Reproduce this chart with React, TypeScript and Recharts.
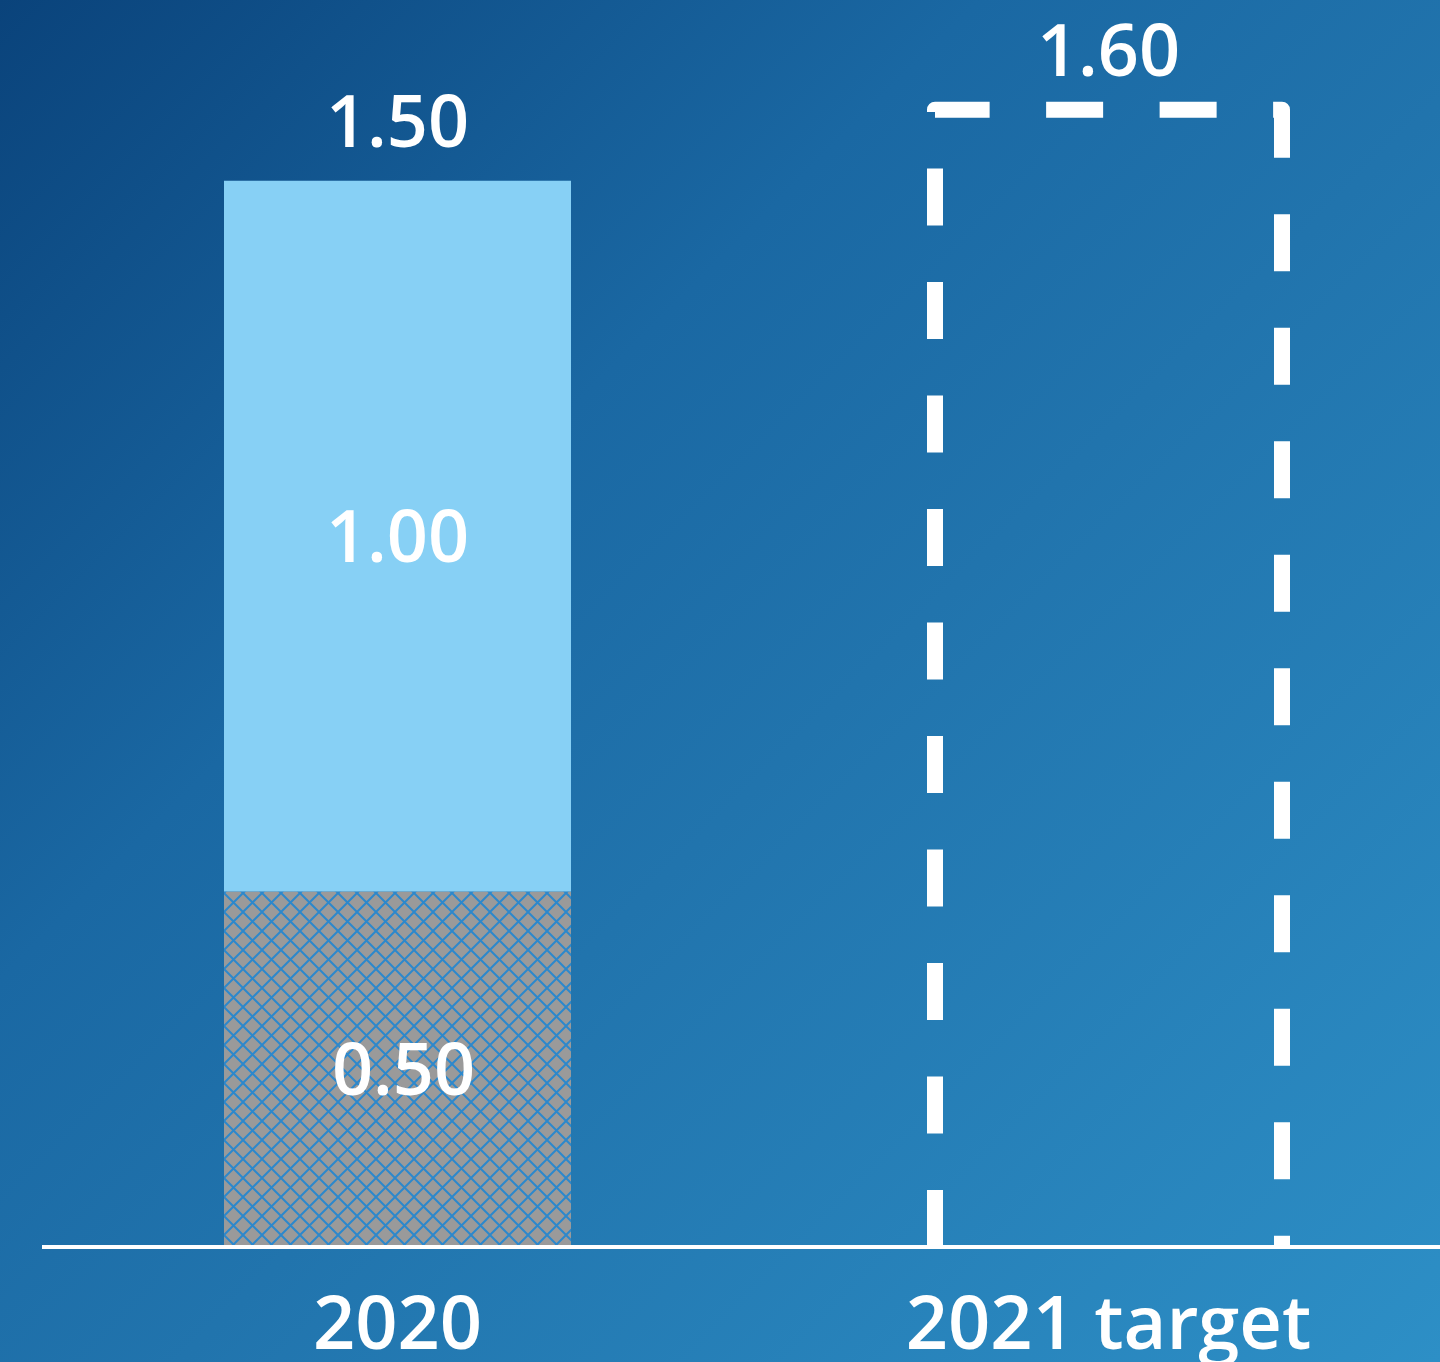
import React from 'react';
import { BarChart, Bar, XAxis, YAxis, LabelList } from 'recharts';

const categories = ['2020', '2021 target'];
const baseValues: (number | null)[] = [0.5, null];
const upperValues: (number | null)[] = [1.0, null];
const targetValues: (number | null)[] = [null, 1.6];
const totals: number[] = [1.5, 1.6];

const data = categories.map((name, i) => ({
  name,
  base: baseValues[i],
  upper: upperValues[i],
  target: targetValues[i],
  total: totals[i],
}));

const fmt = (v: any) => (v === null || v === undefined || v === '' ? '' : Number(v).toFixed(2));

const FONT = '"Open Sans", "Noto Sans", sans-serif';
const WEIGHT = 600;

const DashedShape = (props: any) => {
  const { x, y, width, height } = props;
  if (!height || height <= 0) return null;
  const lx = x;
  const rx = x + width;
  const bottom = y + height;
  const d = `M${lx},${bottom} L${lx},${y} L${rx},${y} L${rx},${bottom}`;
  return (
    <path
      d={d}
      fill="none"
      stroke="#ffffff"
      strokeWidth={16}
      strokeDasharray="57 56.5"
      strokeLinejoin="round"
    />
  );
};

const makeLabel = (pos: 'top' | 'center', dx = 0) => (props: any) => {
  const { x, y, width, height, value } = props;
  const txt = fmt(value);
  if (!txt) return null;
  const cx = x + width / 2 + dx;
  if (pos === 'top') {
    return (
      <text x={cx} y={y - 34} textAnchor="middle" fill="#ffffff" fontSize={72} fontWeight={WEIGHT} fontFamily={FONT}>
        {txt}
      </text>
    );
  }
  return (
    <text
      x={cx}
      y={y + height / 2}
      dy="0.36em"
      textAnchor="middle"
      fill="#ffffff"
      fontSize={72}
      fontWeight={WEIGHT}
      fontFamily={FONT}
    >
      {txt}
    </text>
  );
};

export default function App() {
  return (
    <div
      style={{
        position: 'absolute',
        left: 0,
        top: 0,
        width: 1440,
        height: 1362,
        overflow: 'hidden',
        background: 'linear-gradient(135deg, #0a437b 0%, #1a68a3 35%, #2174ad 55%, #2d8fc6 100%)',
      }}
    >
      <BarChart
        width={1464}
        height={1362}
        data={data}
        margin={{ top: 3, right: 0, bottom: 0, left: 42 }}
        barCategoryGap={0}
      >
        <defs>
          <pattern id="hatch" width="19" height="19" patternUnits="userSpaceOnUse" x="224" y="0">
            <rect width="19" height="19" fill="#9a9a9a" />
            <path d="M0,0 L19,19 M19,0 L0,19" stroke="#2c88cc" strokeWidth={2} />
          </pattern>
        </defs>
        <XAxis
          dataKey="name"
          axisLine={{ stroke: '#ffffff', strokeWidth: 4 }}
          tickLine={false}
          tickMargin={43}
          height={115}
          tick={{ fill: '#ffffff', fontSize: 74, fontWeight: WEIGHT, fontFamily: FONT }}
          interval={0}
        />
        <YAxis hide domain={[0, 1.75]} />
        <Bar dataKey="base" stackId="a" fill="url(#hatch)" barSize={347} isAnimationActive={false}>
          <LabelList dataKey="base" content={makeLabel('center', 6)} />
        </Bar>
        <Bar dataKey="upper" stackId="a" fill="#87d0f5" barSize={347} isAnimationActive={false}>
          <LabelList dataKey="upper" content={makeLabel('center')} />
          <LabelList dataKey="total" content={makeLabel('top')} />
        </Bar>
        <Bar dataKey="target" stackId="a" barSize={347} shape={DashedShape} isAnimationActive={false}>
          <LabelList dataKey="target" content={makeLabel('top')} />
        </Bar>
      </BarChart>
    </div>
  );
}
